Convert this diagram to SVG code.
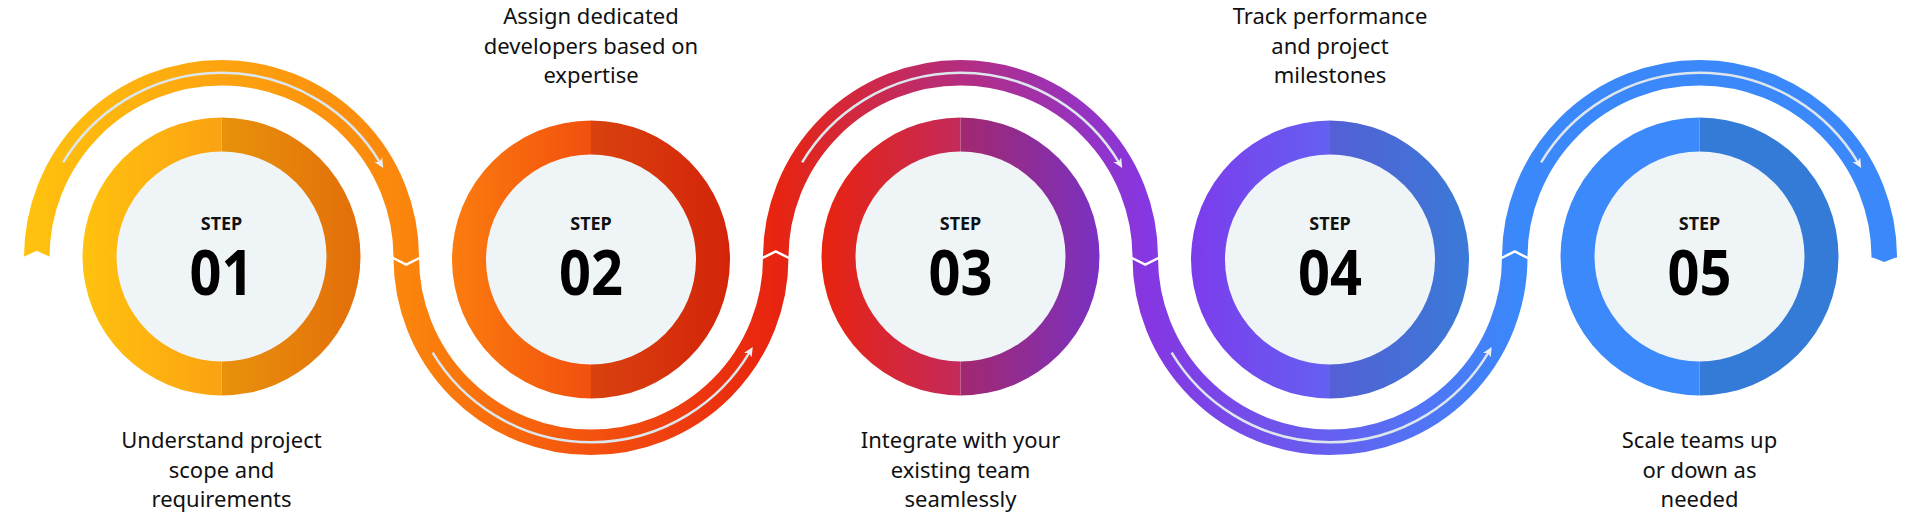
<svg xmlns="http://www.w3.org/2000/svg" width="1920" height="524" viewBox="0 0 1920 524">
  <style>
    .inner { fill: #EFF4F7; }
    .step { font-family: "Noto Sans", "Open Sans", sans-serif; font-weight: 700; font-size: 18px; fill: #111111; text-anchor: middle; }
    .num { font-family: "Noto Sans", "Open Sans", sans-serif; font-weight: 700; font-size: 62px; fill: #000000; text-anchor: middle; }
    .desc { font-family: "Noto Sans", "Open Sans", sans-serif; font-size: 22px; fill: #111111; text-anchor: middle; }
    .band { fill: none; stroke: url(#bandGrad); stroke-width: 25.5; }
    .track { fill: none; stroke: #DDE6EC; stroke-width: 2.5; marker-end: url(#arrow); }
    .chev { fill: none; stroke: #FFFFFF; stroke-width: 2.5; stroke-linejoin: miter; }
  </style>
  <defs>
    <linearGradient id="bandGrad" gradientUnits="userSpaceOnUse" x1="24" y1="0" x2="1897" y2="0">
      <stop offset="0" stop-color="#FFC20E"/>
      <stop offset="0.105" stop-color="#FDA40F"/>
      <stop offset="0.204" stop-color="#FB850C"/>
      <stop offset="0.303" stop-color="#F4520E"/>
      <stop offset="0.401" stop-color="#E8240F"/>
      <stop offset="0.5" stop-color="#B42D80"/>
      <stop offset="0.599" stop-color="#8636E2"/>
      <stop offset="0.697" stop-color="#6660F0"/>
      <stop offset="0.796" stop-color="#3B88FA"/>
      <stop offset="1" stop-color="#3B88FA"/>
    </linearGradient>
    <linearGradient id="c1l" x1="0" y1="0" x2="1" y2="0"><stop offset="0" stop-color="#FFC20E"/><stop offset="1" stop-color="#FBA212"/></linearGradient>
    <linearGradient id="c1r" x1="0" y1="0" x2="1" y2="0"><stop offset="0" stop-color="#E8920C"/><stop offset="1" stop-color="#E36E0A"/></linearGradient>
    <linearGradient id="c2l" x1="0" y1="0" x2="1" y2="0"><stop offset="0" stop-color="#FB7C0E"/><stop offset="1" stop-color="#F2500E"/></linearGradient>
    <linearGradient id="c2r" x1="0" y1="0" x2="1" y2="0"><stop offset="0" stop-color="#D9420E"/><stop offset="1" stop-color="#D3240A"/></linearGradient>
    <linearGradient id="c3l" x1="0" y1="0" x2="1" y2="0"><stop offset="0" stop-color="#E8230F"/><stop offset="1" stop-color="#C42A5C"/></linearGradient>
    <linearGradient id="c3r" x1="0" y1="0" x2="1" y2="0"><stop offset="0" stop-color="#A2286E"/><stop offset="1" stop-color="#7A31C2"/></linearGradient>
    <linearGradient id="c4l" x1="0" y1="0" x2="1" y2="0"><stop offset="0" stop-color="#7C3CEC"/><stop offset="1" stop-color="#6460F2"/></linearGradient>
    <linearGradient id="c4r" x1="0" y1="0" x2="1" y2="0"><stop offset="0" stop-color="#5460D4"/><stop offset="1" stop-color="#3A7AD8"/></linearGradient>
    <linearGradient id="c5l" x1="0" y1="0" x2="1" y2="0"><stop offset="0" stop-color="#3B89FA"/><stop offset="1" stop-color="#3B89FA"/></linearGradient>
    <linearGradient id="c5r" x1="0" y1="0" x2="1" y2="0"><stop offset="0" stop-color="#347BD8"/><stop offset="1" stop-color="#347BD8"/></linearGradient>
    <marker id="arrow" markerUnits="userSpaceOnUse" viewBox="0 0 10 10" markerWidth="10" markerHeight="10" refX="3" refY="5" orient="auto">
      <path d="M0,0.5 L9.5,5 L0,9.5 L2.5,5 Z" fill="#EEF2F5"/>
    </marker>
  </defs>

  <g id="connectors">
    <path class="band" d="M 36.75,257.5 A 184.75 184.75 0 0 1 406.25,257.5 A 184.75 184.75 0 0 0 775.75,257.5 A 184.75 184.75 0 0 1 1145.25,257.5 A 184.75 184.75 0 0 0 1514.75,257.5 A 184.75 184.75 0 0 1 1884.25,257.5"/>
    <polygon points="22,257.6 36.75,250.7 51.5,257.6 51.5,263 22,263" fill="#FFFFFF"/>
    <polygon points="1871.5,257 1884.25,262 1897,257" fill="#3B88FA"/>
    <polyline class="chev" points="392,257.5 406.25,264.5 420.5,257.5"/>
    <polyline class="chev" points="761.5,258.5 775.75,251.5 790,258.5"/>
    <polyline class="chev" points="1131,257.5 1145.25,264.5 1159.5,257.5"/>
    <polyline class="chev" points="1500.5,258.5 1514.75,251.5 1529,258.5"/>
    <path class="track" d="M 63.14,162.35 A 184.75 184.75 0 0 1 379.86,162.35"/>
    <path class="track" d="M 432.64,352.65 A 184.75 184.75 0 0 0 749.36,352.65"/>
    <path class="track" d="M 802.14,162.35 A 184.75 184.75 0 0 1 1118.86,162.35"/>
    <path class="track" d="M 1171.64,352.65 A 184.75 184.75 0 0 0 1488.36,352.65"/>
    <path class="track" d="M 1541.14,162.35 A 184.75 184.75 0 0 1 1857.86,162.35"/>
  </g>

  <g id="step1">
    <path d="M 221.5,117.5 A 139 139 0 0 0 221.5,395.5 Z" fill="url(#c1l)"/>
    <path d="M 221.5,117.5 A 139 139 0 0 1 221.5,395.5 Z" fill="url(#c1r)"/>
    <circle class="inner" cx="221.5" cy="256.5" r="105"/>
    <text class="step" x="221.5" y="230">STEP</text>
    <text class="num" x="221.5" y="295" textLength="64" lengthAdjust="spacingAndGlyphs">01</text>
    <text class="desc" x="221.5" y="447.5">Understand project</text>
    <text class="desc" x="221.5" y="477.5">scope and</text>
    <text class="desc" x="221.5" y="507">requirements</text>
  </g>

  <g id="step2">
    <path d="M 591,120.5 A 139 139 0 0 0 591,398.5 Z" fill="url(#c2l)"/>
    <path d="M 591,120.5 A 139 139 0 0 1 591,398.5 Z" fill="url(#c2r)"/>
    <circle class="inner" cx="591" cy="259.5" r="105"/>
    <text class="step" x="591" y="230">STEP</text>
    <text class="num" x="591" y="295" textLength="64" lengthAdjust="spacingAndGlyphs">02</text>
    <text class="desc" x="591" y="24">Assign dedicated</text>
    <text class="desc" x="591" y="53.5">developers based on</text>
    <text class="desc" x="591" y="83">expertise</text>
  </g>

  <g id="step3">
    <path d="M 960.5,117.5 A 139 139 0 0 0 960.5,395.5 Z" fill="url(#c3l)"/>
    <path d="M 960.5,117.5 A 139 139 0 0 1 960.5,395.5 Z" fill="url(#c3r)"/>
    <circle class="inner" cx="960.5" cy="256.5" r="105"/>
    <text class="step" x="960.5" y="230">STEP</text>
    <text class="num" x="960.5" y="295" textLength="64" lengthAdjust="spacingAndGlyphs">03</text>
    <text class="desc" x="960.5" y="447.5">Integrate with your</text>
    <text class="desc" x="960.5" y="477.5">existing team</text>
    <text class="desc" x="960.5" y="507">seamlessly</text>
  </g>

  <g id="step4">
    <path d="M 1330,120.5 A 139 139 0 0 0 1330,398.5 Z" fill="url(#c4l)"/>
    <path d="M 1330,120.5 A 139 139 0 0 1 1330,398.5 Z" fill="url(#c4r)"/>
    <circle class="inner" cx="1330" cy="259.5" r="105"/>
    <text class="step" x="1330" y="230">STEP</text>
    <text class="num" x="1330" y="295" textLength="64" lengthAdjust="spacingAndGlyphs">04</text>
    <text class="desc" x="1330" y="24">Track performance</text>
    <text class="desc" x="1330" y="53.5">and project</text>
    <text class="desc" x="1330" y="83">milestones</text>
  </g>

  <g id="step5">
    <path d="M 1699.5,117.5 A 139 139 0 0 0 1699.5,395.5 Z" fill="url(#c5l)"/>
    <path d="M 1699.5,117.5 A 139 139 0 0 1 1699.5,395.5 Z" fill="url(#c5r)"/>
    <circle class="inner" cx="1699.5" cy="256.5" r="105"/>
    <text class="step" x="1699.5" y="230">STEP</text>
    <text class="num" x="1699.5" y="295" textLength="64" lengthAdjust="spacingAndGlyphs">05</text>
    <text class="desc" x="1699.5" y="447.5">Scale teams up</text>
    <text class="desc" x="1699.5" y="477.5">or down as</text>
    <text class="desc" x="1699.5" y="507">needed</text>
  </g>
</svg>
